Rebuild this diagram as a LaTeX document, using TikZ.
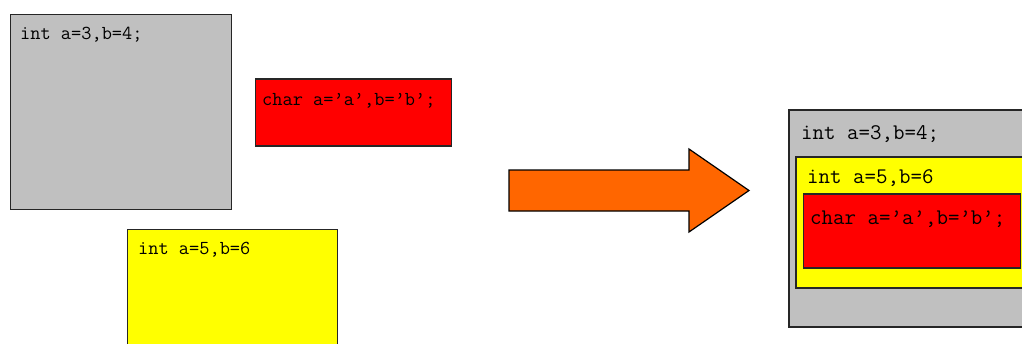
\documentclass[tikz,border=0pt]{standalone}
\usepackage{fontspec}
\usepackage{tikz}
\usetikzlibrary{positioning}
\definecolor{boxgray}{HTML}{C0C0C0}
\definecolor{boxred}{HTML}{FF0000}
\definecolor{boxyellow}{HTML}{FFFF00}
\definecolor{arroworange}{HTML}{FF6600}
\tikzset{box/.style = {draw=black!85, line width=1.8pt, inner sep=0, anchor=north west}}
\tikzset{code/.style = {inner sep=0, anchor=base west, font=\ttfamily\fontsize{19.8}{22}\selectfont}}
\tikzset{codebig/.style = {code, font=\ttfamily\fontsize{22.3}{25}\selectfont}}
\begin{document}
\begin{tikzpicture}[x=1pt, y=-1pt]
      \useasboundingbox (0,0) rectangle (1022,343);
      \clip (0,0) rectangle (1022,343);
      % three separate blocks
      \node[box, fill=boxgray, minimum width=221, minimum height=195] (gray) at (9.5,13.5) {};
      \node[box, fill=boxred, minimum width=196, minimum height=67] (red) at (254.5,78) {};
      \node[box, fill=boxyellow, minimum width=210, minimum height=130] (yellow) at (126.5,228.5) {};
      \node[code] (graytxt) at ([shift={(10.5,25.5)}]gray.north west) {int a=3,b=4;};
      \node[code] (redtxt) at ([shift={(7.5,27.5)}]red.north west) {char a=’a’,b=’b’;};
      \node[code] (yellowtxt) at ([shift={(11.5,25.5)}]yellow.north west) {int a=5,b=6};
      % arrow
      \draw[fill=arroworange, line width=1.2pt] (509,170) -- (689,170) -- (689,149) -- (749,190.5)
            -- (689,232) -- (689,211) -- (509,211) -- cycle;
      % nested blocks
      \node[box, fill=boxgray, minimum width=250, minimum height=217] (grayR) at (788,109) {};
      \node[box, fill=boxyellow, minimum width=240, minimum height=131] (yellowR) at (795,156) {};
      \node[box, fill=boxred, minimum width=217, minimum height=74] (redR) at (802.5,193) {};
      \node[codebig] (grayRtxt) at ([shift={(13,30)}]grayR.north west) {int a=3,b=4;};
      \node[codebig] (yellowRtxt) at ([shift={(12,27)}]yellowR.north west) {int a=5,b=6};
      \node[codebig] (redRtxt) at ([shift={(7.5,31)}]redR.north west) {char a=’a’,b=’b’;};
\end{tikzpicture}
\end{document}
